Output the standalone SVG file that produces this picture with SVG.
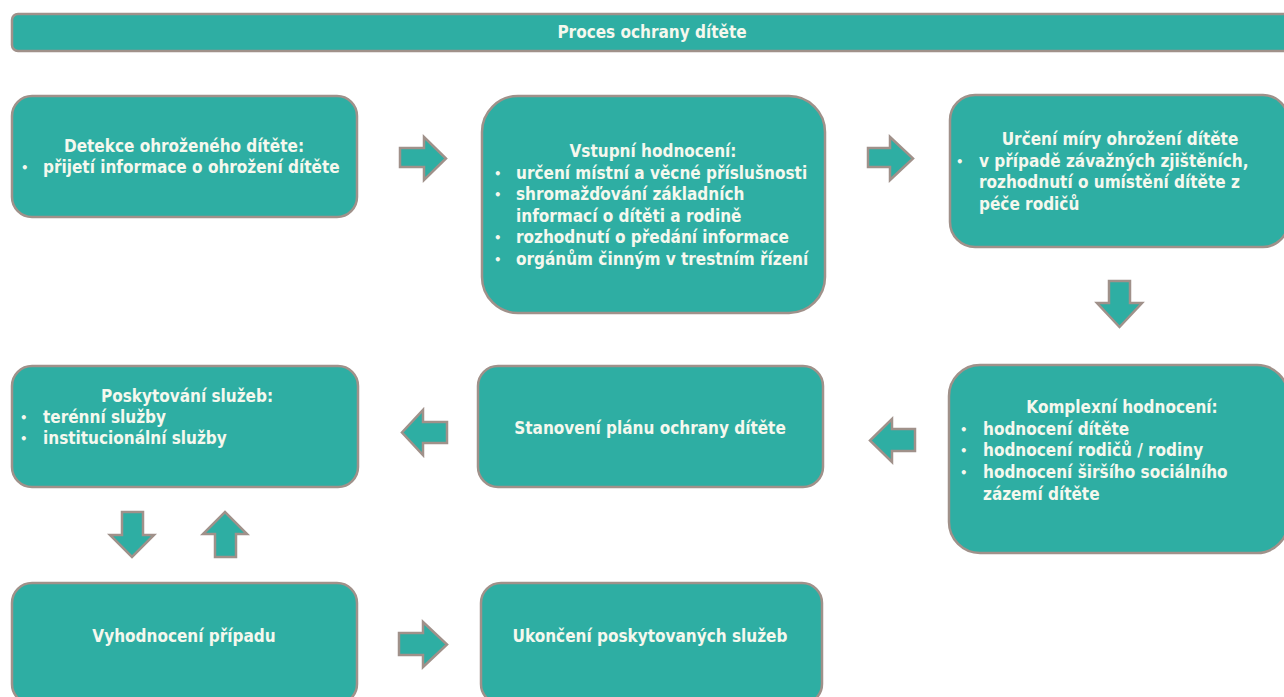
<svg xmlns="http://www.w3.org/2000/svg" width="1284" height="697" viewBox="0 0 1284 697">
  <style>
    .box { fill: #2eaea3; stroke: #a0918a; stroke-width: 2.5; }
    .arrow { fill: #2eaea3; stroke: #a0918a; stroke-width: 2.5; stroke-linejoin: miter; }
    text { font-family: "DejaVu Sans Condensed", "DejaVu Sans", sans-serif; font-stretch: condensed; font-weight: bold; font-size: 17px; fill: #f5f8ee; }
    .c { text-anchor: middle; }
    .b { font-size: 13px; }
  </style>

  <rect width="1284" height="697" fill="#ffffff"/>

  <!-- header bar -->
  <g id="header">
    <rect class="box" x="12" y="14" width="1282" height="37" rx="6"/>
    <text class="c" x="652" y="38">Proces ochrany dítěte</text>
  </g>

  <!-- process steps -->
  <g id="detekce">
    <rect class="box" x="12" y="96" width="345" height="121" rx="20"/>
    <text class="c" x="184" y="152">Detekce ohroženého dítěte:</text>
    <text class="b" x="21" y="172">•</text>
    <text x="43" y="173">přijetí informace o ohrožení dítěte</text>
  </g>

  <g id="vstupni-hodnoceni">
    <rect class="box" x="482" y="96" width="343" height="217" rx="36"/>
    <text class="c" x="653" y="157">Vstupní hodnocení:</text>
    <text class="b" x="494" y="178">•</text>
    <text x="516" y="179">určení místní a věcné příslušnosti</text>
    <text class="b" x="494" y="199">•</text>
    <text x="516" y="200">shromažďování základních</text>
    <text x="516" y="222">informací o dítěti a rodině</text>
    <text class="b" x="494" y="242">•</text>
    <text x="516" y="243">rozhodnutí o předání informace</text>
    <text class="b" x="494" y="264">•</text>
    <text x="516" y="265">orgánům činným v trestním řízení</text>
  </g>

  <g id="mira-ohrozeni">
    <rect class="box" x="950" y="95" width="338" height="152" rx="25"/>
    <text class="c" x="1120" y="145">Určení míry ohrožení dítěte</text>
    <text class="b" x="956" y="166">•</text>
    <text x="979" y="167">v případě závažných zjištěních,</text>
    <text x="979" y="188">rozhodnutí o umístění dítěte z</text>
    <text x="979" y="210">péče rodičů</text>
  </g>

  <g id="komplexni-hodnoceni">
    <rect class="box" x="949" y="365" width="339" height="188" rx="31"/>
    <text class="c" x="1122" y="413">Komplexní hodnocení:</text>
    <text class="b" x="960" y="434">•</text>
    <text x="983" y="435">hodnocení dítěte</text>
    <text class="b" x="960" y="455">•</text>
    <text x="983" y="456">hodnocení rodičů / rodiny</text>
    <text class="b" x="960" y="477">•</text>
    <text x="983" y="478">hodnocení širšího sociálního</text>
    <text x="983" y="500">zázemí dítěte</text>
  </g>

  <g id="plan-ochrany">
    <rect class="box" x="478" y="366" width="345" height="121" rx="20"/>
    <text class="c" x="650" y="434">Stanovení plánu ochrany dítěte</text>
  </g>

  <g id="poskytovani-sluzeb">
    <rect class="box" x="12" y="366" width="346" height="121" rx="20"/>
    <text class="c" x="187" y="402">Poskytování služeb:</text>
    <text class="b" x="20" y="422">•</text>
    <text x="43" y="423">terénní služby</text>
    <text class="b" x="20" y="443">•</text>
    <text x="43" y="444">institucionální služby</text>
  </g>

  <g id="vyhodnoceni">
    <rect class="box" x="12" y="583" width="345" height="121" rx="20"/>
    <text class="c" x="184" y="642">Vyhodnocení případu</text>
  </g>

  <g id="ukonceni">
    <rect class="box" x="481" y="583" width="341" height="121" rx="20"/>
    <text class="c" x="650" y="642">Ukončení poskytovaných služeb</text>
  </g>

  <!-- block arrows between steps -->
  <g id="connectors">
    <!-- right: detekce -> vstupni -->
    <polygon class="arrow" points="400,148 424,148 424,137 446,158.5 424,180 424,167 400,167"/>
    <!-- right: vstupni -> mira -->
    <polygon class="arrow" points="868,148 890,148 890,137 913,158.5 890,180 890,167 868,167"/>
    <!-- down: mira -> komplexni -->
    <polygon class="arrow" points="1109,281 1130,281 1130,303 1142,303 1119.5,327 1097,303 1109,303"/>
    <!-- left: komplexni -> plan -->
    <polygon class="arrow" points="915,429 892,429 892,419 870,440.5 892,462 892,451 915,451"/>
    <!-- left: plan -> poskytovani -->
    <polygon class="arrow" points="447,422 423,422 423,410 402,432.5 423,455 423,443 447,443"/>
    <!-- down: poskytovani -> vyhodnoceni -->
    <polygon class="arrow" points="122,512 143,512 143,535 154,535 132,557 110,535 122,535"/>
    <!-- up: vyhodnoceni -> poskytovani -->
    <polygon class="arrow" points="215,557 236,557 236,534 247,534 225,512 203,534 215,534"/>
    <!-- right: vyhodnoceni -> ukonceni -->
    <polygon class="arrow" points="399,633 423,633 423,622 447,644.5 423,667 423,655 399,655"/>
  </g>
</svg>
